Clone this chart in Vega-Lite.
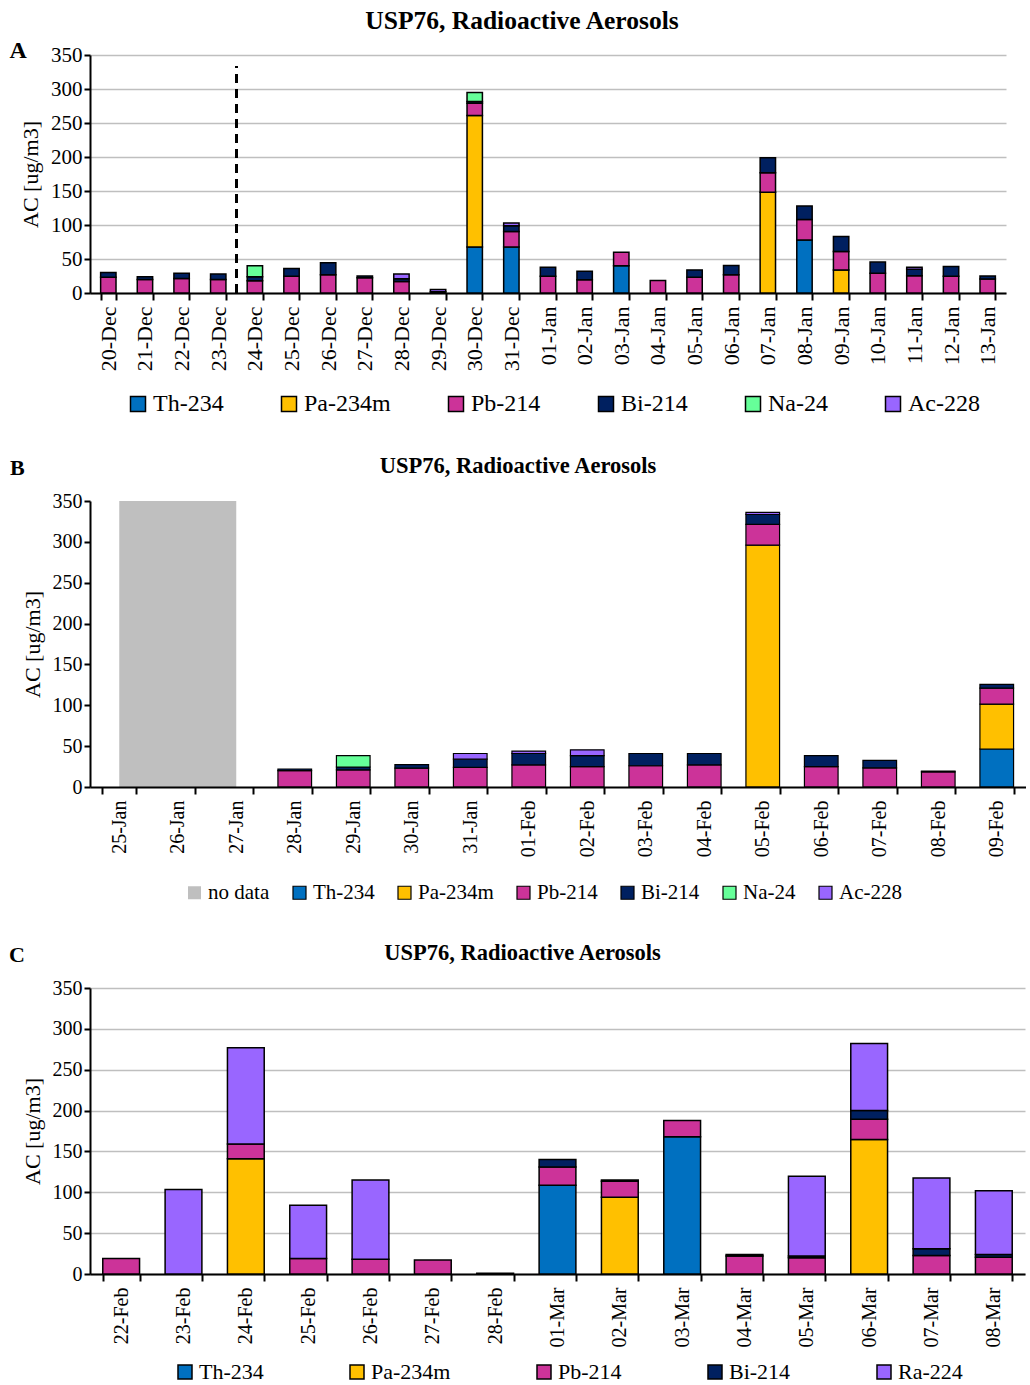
{
"$schema": "https://vega.github.io/schema/vega-lite/v6.json",
"padding": {"left": 9, "top": 8, "right": 0, "bottom": 0},
"spacing": 38,
"resolve": {"scale": {"color": "independent", "x": "independent", "y": "independent"}, "legend": {"color": "independent"}},
"config": {
  "font": "Liberation Serif",
  "view": {"stroke": null},
  "title": {"font": "Liberation Serif", "fontWeight": "bold", "color": "black"},
  "axis": {"labelFont": "Liberation Serif", "titleFont": "Liberation Serif", "labelColor": "black", "titleColor": "black", "domainColor": "black", "tickColor": "black", "domainWidth": 2, "tickWidth": 2, "gridColor": "#BFBFBF", "gridWidth": 1.5, "labelOverlap": false},
  "legend": {"labelFont": "Liberation Serif", "labelColor": "black"}
},
"datasets": {
  "A": [
    {"date": "20-Dec", "iso": "Pb-214", "value": 23}, {"date": "20-Dec", "iso": "Bi-214", "value": 7},
    {"date": "21-Dec", "iso": "Pb-214", "value": 20}, {"date": "21-Dec", "iso": "Bi-214", "value": 4},
    {"date": "22-Dec", "iso": "Pb-214", "value": 21.5}, {"date": "22-Dec", "iso": "Bi-214", "value": 7.5},
    {"date": "23-Dec", "iso": "Pb-214", "value": 20}, {"date": "23-Dec", "iso": "Bi-214", "value": 8},
    {"date": "24-Dec", "iso": "Pb-214", "value": 18}, {"date": "24-Dec", "iso": "Bi-214", "value": 6}, {"date": "24-Dec", "iso": "Na-24", "value": 16},
    {"date": "25-Dec", "iso": "Pb-214", "value": 24.5}, {"date": "25-Dec", "iso": "Bi-214", "value": 11.5},
    {"date": "26-Dec", "iso": "Pb-214", "value": 27}, {"date": "26-Dec", "iso": "Bi-214", "value": 17.5},
    {"date": "27-Dec", "iso": "Pb-214", "value": 22.5}, {"date": "27-Dec", "iso": "Bi-214", "value": 2.5},
    {"date": "28-Dec", "iso": "Pb-214", "value": 17}, {"date": "28-Dec", "iso": "Bi-214", "value": 4}, {"date": "28-Dec", "iso": "Ac-228", "value": 7},
    {"date": "29-Dec", "iso": "Bi-214", "value": 2}, {"date": "29-Dec", "iso": "Ac-228", "value": 3},
    {"date": "30-Dec", "iso": "Th-234", "value": 67.5}, {"date": "30-Dec", "iso": "Pa-234m", "value": 193.5}, {"date": "30-Dec", "iso": "Pb-214", "value": 18}, {"date": "30-Dec", "iso": "Bi-214", "value": 2.5}, {"date": "30-Dec", "iso": "Na-24", "value": 13.5},
    {"date": "31-Dec", "iso": "Th-234", "value": 67.5}, {"date": "31-Dec", "iso": "Pb-214", "value": 23}, {"date": "31-Dec", "iso": "Bi-214", "value": 8.5}, {"date": "31-Dec", "iso": "Ac-228", "value": 4},
    {"date": "01-Jan", "iso": "Pb-214", "value": 24.5}, {"date": "01-Jan", "iso": "Bi-214", "value": 13.5},
    {"date": "02-Jan", "iso": "Pb-214", "value": 19.5}, {"date": "02-Jan", "iso": "Bi-214", "value": 12.5},
    {"date": "03-Jan", "iso": "Th-234", "value": 40}, {"date": "03-Jan", "iso": "Pb-214", "value": 20},
    {"date": "04-Jan", "iso": "Pb-214", "value": 18.5},
    {"date": "05-Jan", "iso": "Pb-214", "value": 23}, {"date": "05-Jan", "iso": "Bi-214", "value": 11},
    {"date": "06-Jan", "iso": "Pb-214", "value": 27}, {"date": "06-Jan", "iso": "Bi-214", "value": 13.5},
    {"date": "07-Jan", "iso": "Pa-234m", "value": 148}, {"date": "07-Jan", "iso": "Pb-214", "value": 29}, {"date": "07-Jan", "iso": "Bi-214", "value": 22},
    {"date": "08-Jan", "iso": "Th-234", "value": 78}, {"date": "08-Jan", "iso": "Pb-214", "value": 30}, {"date": "08-Jan", "iso": "Bi-214", "value": 20},
    {"date": "09-Jan", "iso": "Pa-234m", "value": 34}, {"date": "09-Jan", "iso": "Pb-214", "value": 27}, {"date": "09-Jan", "iso": "Bi-214", "value": 22},
    {"date": "10-Jan", "iso": "Pb-214", "value": 29}, {"date": "10-Jan", "iso": "Bi-214", "value": 16.5},
    {"date": "11-Jan", "iso": "Pb-214", "value": 25.5}, {"date": "11-Jan", "iso": "Bi-214", "value": 9.5}, {"date": "11-Jan", "iso": "Ac-228", "value": 3},
    {"date": "12-Jan", "iso": "Pb-214", "value": 24.5}, {"date": "12-Jan", "iso": "Bi-214", "value": 14.5},
    {"date": "13-Jan", "iso": "Pb-214", "value": 20.5}, {"date": "13-Jan", "iso": "Bi-214", "value": 4.5}
  ],
  "B": [
    {"date": "28-Jan", "iso": "Pb-214", "value": 20}, {"date": "28-Jan", "iso": "Bi-214", "value": 2},
    {"date": "29-Jan", "iso": "Pb-214", "value": 21}, {"date": "29-Jan", "iso": "Bi-214", "value": 3.5}, {"date": "29-Jan", "iso": "Na-24", "value": 14},
    {"date": "30-Jan", "iso": "Pb-214", "value": 23}, {"date": "30-Jan", "iso": "Bi-214", "value": 4.5},
    {"date": "31-Jan", "iso": "Pb-214", "value": 24}, {"date": "31-Jan", "iso": "Bi-214", "value": 10}, {"date": "31-Jan", "iso": "Ac-228", "value": 7},
    {"date": "01-Feb", "iso": "Pb-214", "value": 27}, {"date": "01-Feb", "iso": "Bi-214", "value": 14}, {"date": "01-Feb", "iso": "Ac-228", "value": 3},
    {"date": "02-Feb", "iso": "Pb-214", "value": 25}, {"date": "02-Feb", "iso": "Bi-214", "value": 13.5}, {"date": "02-Feb", "iso": "Ac-228", "value": 7},
    {"date": "03-Feb", "iso": "Pb-214", "value": 26}, {"date": "03-Feb", "iso": "Bi-214", "value": 15},
    {"date": "04-Feb", "iso": "Pb-214", "value": 27}, {"date": "04-Feb", "iso": "Bi-214", "value": 14},
    {"date": "05-Feb", "iso": "Pa-234m", "value": 296}, {"date": "05-Feb", "iso": "Pb-214", "value": 25.5}, {"date": "05-Feb", "iso": "Bi-214", "value": 12}, {"date": "05-Feb", "iso": "Ac-228", "value": 2.5},
    {"date": "06-Feb", "iso": "Pb-214", "value": 25}, {"date": "06-Feb", "iso": "Bi-214", "value": 13.5},
    {"date": "07-Feb", "iso": "Pb-214", "value": 23.5}, {"date": "07-Feb", "iso": "Bi-214", "value": 9},
    {"date": "08-Feb", "iso": "Pb-214", "value": 18.5}, {"date": "08-Feb", "iso": "Bi-214", "value": 1},
    {"date": "09-Feb", "iso": "Th-234", "value": 46.5}, {"date": "09-Feb", "iso": "Pa-234m", "value": 55}, {"date": "09-Feb", "iso": "Pb-214", "value": 19.5}, {"date": "09-Feb", "iso": "Bi-214", "value": 4.5}
  ],
  "C": [
    {"date": "22-Feb", "iso": "Pb-214", "value": 19},
    {"date": "23-Feb", "iso": "Ra-224", "value": 103.5},
    {"date": "24-Feb", "iso": "Pa-234m", "value": 141}, {"date": "24-Feb", "iso": "Pb-214", "value": 18}, {"date": "24-Feb", "iso": "Ra-224", "value": 118},
    {"date": "25-Feb", "iso": "Pb-214", "value": 19}, {"date": "25-Feb", "iso": "Ra-224", "value": 65},
    {"date": "26-Feb", "iso": "Pb-214", "value": 18}, {"date": "26-Feb", "iso": "Ra-224", "value": 97},
    {"date": "27-Feb", "iso": "Pb-214", "value": 17},
    {"date": "28-Feb", "iso": "Pb-214", "value": 1},
    {"date": "01-Mar", "iso": "Th-234", "value": 108.5}, {"date": "01-Mar", "iso": "Pb-214", "value": 22.5}, {"date": "01-Mar", "iso": "Bi-214", "value": 9},
    {"date": "02-Mar", "iso": "Pa-234m", "value": 94}, {"date": "02-Mar", "iso": "Pb-214", "value": 19.5}, {"date": "02-Mar", "iso": "Bi-214", "value": 1.5},
    {"date": "03-Mar", "iso": "Th-234", "value": 168}, {"date": "03-Mar", "iso": "Pb-214", "value": 20},
    {"date": "04-Mar", "iso": "Pb-214", "value": 22}, {"date": "04-Mar", "iso": "Bi-214", "value": 2},
    {"date": "05-Mar", "iso": "Pb-214", "value": 20}, {"date": "05-Mar", "iso": "Bi-214", "value": 2}, {"date": "05-Mar", "iso": "Ra-224", "value": 97.5},
    {"date": "06-Mar", "iso": "Pa-234m", "value": 164.5}, {"date": "06-Mar", "iso": "Pb-214", "value": 25}, {"date": "06-Mar", "iso": "Bi-214", "value": 10.5}, {"date": "06-Mar", "iso": "Ra-224", "value": 82},
    {"date": "07-Mar", "iso": "Pb-214", "value": 22.5}, {"date": "07-Mar", "iso": "Bi-214", "value": 8.5}, {"date": "07-Mar", "iso": "Ra-224", "value": 86.5},
    {"date": "08-Mar", "iso": "Pb-214", "value": 20.5}, {"date": "08-Mar", "iso": "Bi-214", "value": 3.5}, {"date": "08-Mar", "iso": "Ra-224", "value": 78}
  ]
},
"vconcat": [
  {
    "title": {"text": "A", "anchor": "start", "fontSize": 24, "offset": 0, "dy": 54, "dx": -10},
    "vconcat": [{
      "width": 916, "height": 238,
      "title": {"text": "USP76, Radioactive Aerosols", "fontSize": 25.5, "offset": 10, "dx": -26},
      "data": {"name": "A"},
      "layer": [
        {
          "transform": [{"calculate": "indexof(['Th-234','Pa-234m','Pb-214','Bi-214','Na-24','Ac-228','Ra-224'], datum.iso)", "as": "stackorder"}],
          "mark": {"type": "bar", "stroke": "black", "strokeWidth": 1.5},
          "encoding": {
            "x": {"field": "date", "type": "nominal",
              "scale": {"domain": ["20-Dec","21-Dec","22-Dec","23-Dec","24-Dec","25-Dec","26-Dec","27-Dec","28-Dec","29-Dec","30-Dec","31-Dec","01-Jan","02-Jan","03-Jan","04-Jan","05-Jan","06-Jan","07-Jan","08-Jan","09-Jan","10-Jan","11-Jan","12-Jan","13-Jan"], "paddingInner": 0.58, "paddingOuter": 0.29},
              "axis": {"title": null, "labelAngle": -90, "labelFontSize": 22, "tickBand": "extent", "tickSize": 7, "labelPadding": 6}},
            "y": {"field": "value", "type": "quantitative",
              "scale": {"domain": [0, 350]},
              "axis": {"title": "AC [ug/m3]", "titleFontSize": 22, "titleFontWeight": "normal", "values": [0,50,100,150,200,250,300,350], "labelFontSize": 21, "tickSize": 6, "titlePadding": 8}},
            "order": {"field": "stackorder", "type": "quantitative", "sort": "ascending"},
            "color": {"field": "iso", "type": "nominal",
              "scale": {"domain": ["Th-234","Pa-234m","Pb-214","Bi-214","Na-24","Ac-228"], "range": ["#0070C0","#FFC000","#CC3399","#002060","#66FF99","#9966FF"]},
              "legend": {"orient": "none", "legendX": 36, "legendY": 337, "direction": "horizontal", "columns": 6, "gridAlign": "each", "columnPadding": 53, "title": null, "labelFontSize": 24, "symbolType": "square", "symbolSize": 225, "symbolStrokeColor": "black", "symbolStrokeWidth": 1.5, "labelOffset": 3, "symbolOpacity": 1}}
          }
        },
        {
          "mark": {"type": "rule", "strokeDash": [9, 6], "strokeWidth": 2.5, "color": "black"},
          "encoding": {
            "x": {"datum": "23-Dec", "bandPosition": 1.69},
            "y": {"datum": 0, "axis": {"title": "AC [ug/m3]", "titleFontSize": 22, "titleFontWeight": "normal", "values": [0,50,100,150,200,250,300,350], "labelFontSize": 21, "tickSize": 6, "titlePadding": 8}},
            "y2": {"datum": 333}}
        }
      ]
    }]
  },
  {
    "title": {"text": "B", "anchor": "start", "fontSize": 22, "offset": 0, "dy": 25, "dx": -11},
    "vconcat": [{
      "width": 936, "height": 286,
      "title": {"text": "USP76, Radioactive Aerosols", "fontSize": 22.5, "offset": 14, "dx": -40},
      "layer": [
        {
          "data": {"values": [{"label": "no data"}]},
          "mark": {"type": "rect", "color": "#BFBFBF"},
          "encoding": {
            "x": {"datum": "25-Jan", "bandPosition": 0.5},
            "x2": {"datum": "27-Jan", "bandPosition": 0.5},
            "y": {"datum": 0}, "y2": {"datum": 350}
          }
        },
        {
          "data": {"name": "B"},
          "transform": [{"calculate": "indexof(['Th-234','Pa-234m','Pb-214','Bi-214','Na-24','Ac-228','Ra-224'], datum.iso)", "as": "stackorder"}],
          "mark": {"type": "bar", "stroke": "black", "strokeWidth": 1.2},
          "encoding": {
            "x": {"field": "date", "type": "nominal",
              "scale": {"domain": ["25-Jan","26-Jan","27-Jan","28-Jan","29-Jan","30-Jan","31-Jan","01-Feb","02-Feb","03-Feb","04-Feb","05-Feb","06-Feb","07-Feb","08-Feb","09-Feb"], "paddingInner": 0.425, "paddingOuter": 0.2125},
              "axis": {"title": null, "labelAngle": -90, "labelFontSize": 20, "tickBand": "extent", "tickSize": 7, "labelPadding": 6}},
            "y": {"field": "value", "type": "quantitative",
              "scale": {"domain": [0, 350]},
              "axis": {"title": "AC [ug/m3]", "titleFontSize": 22, "titleFontWeight": "normal", "values": [0,50,100,150,200,250,300,350], "labelFontSize": 20, "tickSize": 6, "titlePadding": 8}},
            "order": {"field": "stackorder", "type": "quantitative", "sort": "ascending"},
            "color": {"field": "iso", "type": "nominal",
              "scale": {"domain": ["no data","Th-234","Pa-234m","Pb-214","Bi-214","Na-24","Ac-228"], "range": ["#BFBFBF","#0070C0","#FFC000","#CC3399","#002060","#66FF99","#9966FF"]},
              "legend": {"orient": "none", "legendX": 94, "legendY": 381, "direction": "horizontal", "columns": 7, "gridAlign": "each", "columnPadding": 19, "title": null, "labelFontSize": 21, "symbolType": "square", "symbolSize": 169, "symbolStrokeColor": "black", "symbolStrokeWidth": 1.2, "labelOffset": 3,
                "encode": {"symbols": {"update": {"stroke": {"signal": "datum.label === 'no data' ? 'transparent' : 'black'"}}}}}}
          }
        }
      ]
    }]
  },
  {
    "title": {"text": "C", "anchor": "start", "fontSize": 22, "offset": 0, "dy": 25, "dx": -12},
    "vconcat": [{
      "width": 935, "height": 286,
      "title": {"text": "USP76, Radioactive Aerosols", "fontSize": 22.5, "offset": 14, "dx": -35},
      "data": {"name": "C"},
      "transform": [{"calculate": "indexof(['Th-234','Pa-234m','Pb-214','Bi-214','Na-24','Ac-228','Ra-224'], datum.iso)", "as": "stackorder"}],
      "mark": {"type": "bar", "stroke": "black", "strokeWidth": 1.5},
      "encoding": {
        "x": {"field": "date", "type": "nominal",
          "scale": {"domain": ["22-Feb","23-Feb","24-Feb","25-Feb","26-Feb","27-Feb","28-Feb","01-Mar","02-Mar","03-Mar","04-Mar","05-Mar","06-Mar","07-Mar","08-Mar"], "paddingInner": 0.41, "paddingOuter": 0.205},
          "axis": {"title": null, "labelAngle": -90, "labelFontSize": 20, "tickBand": "extent", "tickSize": 7, "labelPadding": 6}},
        "y": {"field": "value", "type": "quantitative",
          "scale": {"domain": [0, 350]},
          "axis": {"title": "AC [ug/m3]", "titleFontSize": 22, "titleFontWeight": "normal", "values": [0,50,100,150,200,250,300,350], "labelFontSize": 20, "tickSize": 6, "titlePadding": 8}},
        "order": {"field": "stackorder", "type": "quantitative", "sort": "ascending"},
        "color": {"field": "iso", "type": "nominal",
          "scale": {"domain": ["Th-234","Pa-234m","Pb-214","Bi-214","Ra-224"], "range": ["#0070C0","#FFC000","#CC3399","#002060","#9966FF"]},
          "legend": {"orient": "none", "legendX": 84, "legendY": 373, "direction": "horizontal", "columns": 5, "gridAlign": "each", "columnPadding": 82, "title": null, "labelFontSize": 22, "symbolType": "square", "symbolSize": 196, "symbolStrokeColor": "black", "symbolStrokeWidth": 1.5, "labelOffset": 3}}
      }
    }]
  }
]
}
